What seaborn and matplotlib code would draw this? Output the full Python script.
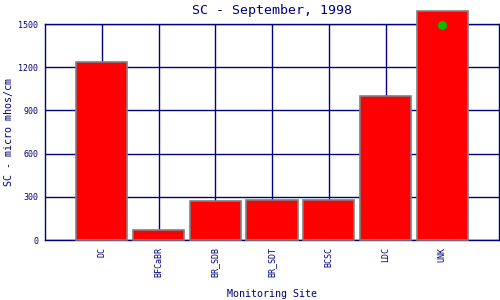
import matplotlib
matplotlib.use("Agg")
import matplotlib.pyplot as plt
import seaborn as sns
import pandas as pd

sites = ["DC", "BFCaBR", "BR_SDB", "BR_SDT", "BCSC", "LDC", "UNK"]
sc_values = [1235, 67, 268, 275, 275, 1000, 1592]
marker_site = ["UNK"]
marker_value = [1495]

sns.set_style("white")
plt.rcParams["font.family"] = ["DejaVu Sans Mono", "DejaVu Sans"]
navy = "#000080"

df = pd.DataFrame({"site": sites, "sc": sc_values})

fig = plt.figure(figsize=(5, 3), dpi=100)
ax = fig.add_axes([0.09, 0.2, 0.908, 0.72])

sns.barplot(data=df, x="site", y="sc", color="#ff0000", saturation=1,
            edgecolor="#808080", linewidth=1.2, width=0.9, ax=ax, zorder=3)
for p in ax.patches:
    p.set_clip_on(False)

pos = [sites.index(s) for s in marker_site]
ax.scatter(pos, marker_value, color="#00c000", s=30, marker="o", zorder=5, clip_on=False)

ax.set_xlim(-1, 7)
ax.set_ylim(0, 1500)
ax.set_yticks([0, 300, 600, 900, 1200, 1500])
ax.grid(True, color=navy, linewidth=1.0, zorder=0)
ax.set_axisbelow(True)
for s in ax.spines.values():
    s.set_color(navy)
    s.set_linewidth(1.0)
ax.tick_params(axis="both", length=0, colors=navy, labelsize=6)
ax.tick_params(axis="x", rotation=90, pad=5)
ax.tick_params(axis="y", pad=5)
ax.set_title("SC - September, 1998", color=navy, fontsize=9.5, pad=7.5, fontweight="normal")
ax.set_xlabel("Monitoring Site", color=navy, fontsize=7.2, labelpad=8.5)
ax.set_ylabel("SC - micro mhos/cm", color=navy, fontsize=7.2, labelpad=3)

fig.savefig("out.png", dpi=100)
